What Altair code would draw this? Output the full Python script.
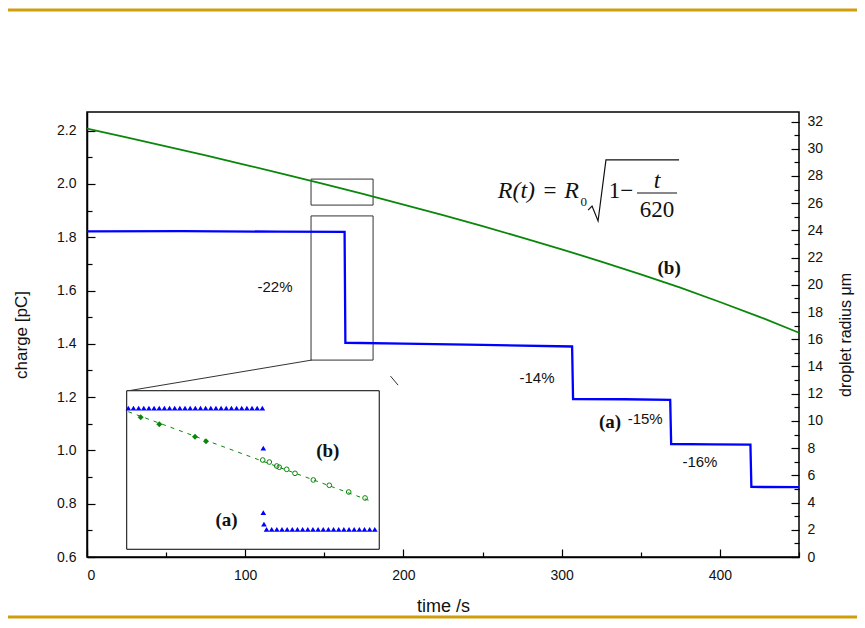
import altair as alt
import pandas as pd

# ---------------- data ----------------
# (a) charge of the droplet [pC] vs time [s]  (stepwise)
blue_t = [0, 60, 120, 162.8, 163.3, 200, 250, 306.6, 307.2, 340, 368.6, 369.2, 395, 419.3, 419.9, 450]
blue_q = [1.822, 1.823, 1.821, 1.820, 1.404, 1.401, 1.396, 1.390, 1.193, 1.192, 1.190, 1.024, 1.023, 1.022, 0.863, 0.862]

# (b) droplet radius [um] vs time [s]
green_t = [0, 25, 50, 75, 100, 125, 150, 175, 200, 225, 250, 275, 300, 325, 350, 375, 400, 425, 450]
green_r = [31.47, 30.83, 30.18, 29.51, 28.82, 28.12, 27.40, 26.66, 25.90, 25.12, 24.31, 23.47,
           22.61, 21.71, 20.77, 19.79, 18.74, 17.65, 16.48]

# step annotations
step_text = ["-22%", "-14%", "-15%", "-16%"]
step_t = [118.8, 284.4, 352.8, 387.4]
step_q = [1.613, 1.272, 1.118, 0.956]

curve_text = ["(a)", "(b)"]
curve_t = [330.6, 367.9]
curve_q = [1.107, 1.684]

# zoom boxes (main coordinates)
box_t0, box_t1 = 141.6, 180.8
rbox_r0, rbox_r1 = 25.86, 27.77
qbox_q0, qbox_q1 = 1.339, 1.880

# inset frame (main coordinates)
inset_t0, inset_t1 = 25.1, 184.7
inset_q0, inset_q1 = 0.629, 1.224

# connector lines (main coordinates)
conn_id = [1, 1, 2, 2]
conn_t = [142.0, 27.2, 191.8, 196.6]
conn_q = [1.339, 1.2248, 1.279, 1.245]

# inset data (zoomed region, its own scales)
ins_top_t = [141.85, 142.65, 143.45, 144.25, 145.05, 145.85, 146.65, 147.45, 148.25, 149.05,
             149.85, 150.65, 151.45, 152.25, 153.05, 153.85, 154.65, 155.45, 156.25, 157.05,
             157.85, 158.65, 159.45, 160.25, 161.05, 161.85, 162.65]
ins_mid_t = [162.8, 162.8, 162.9]
ins_mid_q = [1.684, 1.464, 1.425]
ins_bot_t = [163.3, 164.1, 164.9, 165.7, 166.5, 167.3, 168.1, 168.9, 169.7, 170.5, 171.3,
             172.1, 172.9, 173.7, 174.5, 175.3, 176.1, 176.9, 177.7, 178.5, 179.3, 180.1]
ins_top_level = 1.8206
ins_bot_level = 1.4071

ins_dia_t = [143.77, 146.66, 152.20, 153.91]
ins_dia_r = [27.450, 27.365, 27.216, 27.161]
ins_circ_t = [162.71, 163.73, 164.88, 165.28, 166.43, 167.72, 170.56, 173.04, 176.05, 178.59]
ins_circ_r = [26.935, 26.911, 26.863, 26.848, 26.823, 26.775, 26.695, 26.631, 26.550, 26.478]
ins_fit_t = [141.85, 179.87]
ins_fit_r = [27.517, 26.430]

ins_lab_a = (157.1, 1.439)
ins_lab_b = (172.8, 27.046)

# formula pieces (main coordinates)
f_ital_text = ["R(t)", "R", "t"]
f_ital_t = [271.4, 306.2, 360.3]
f_ital_q = [1.947, 1.947, 1.985]
f_up_text = ["=", "1\u2212", "620"]
f_up_t = [292.6, 337.5, 360.3]
f_up_q = [1.947, 1.947, 1.876]
f_sub_text = ["0"]
f_sub_t = [314.0]
f_sub_q = [1.918]
rad_t = [316.7, 319.2, 323.0, 328.0, 374.2]
rad_q = [1.902, 1.917, 1.861, 2.090, 2.090]
bar_t = [347.6, 372.9]
bar_q = [1.966, 1.966]

# axis ticks
x_major = [0, 100, 200, 300, 400]
x_minor = [50, 150, 250, 350, 450]
q_major = [0.6, 0.8, 1.0, 1.2, 1.4, 1.6, 1.8, 2.0, 2.2]
q_minor = [0.7, 0.9, 1.1, 1.3, 1.5, 1.7, 1.9, 2.1]
r_major = [0, 2, 4, 6, 8, 10, 12, 14, 16, 18, 20, 22, 24, 26, 28, 30, 32]
r_minor = [1, 3, 5, 7, 9, 11, 13, 15, 17, 19, 21, 23, 25, 27, 29, 31]

# ---------------- scales ----------------
W, H = 712, 445
XS = alt.Scale(domain=[0, 450], nice=False, zero=False)
YQ = alt.Scale(domain=[0.6, 2.27], nice=False, zero=False)
YR = alt.Scale(domain=[0, 32.7], nice=False, zero=False)
XI = alt.Scale(domain=[box_t0, box_t1], range=[39.7, 292.3], nice=False, zero=False)
YIQ = alt.Scale(domain=[qbox_q0, qbox_q1], range=[437.3, 278.7], nice=False, zero=False)
YIR = alt.Scale(domain=[rbox_r0, rbox_r1], range=[437.3, 278.7], nice=False, zero=False)

SANS = "Liberation Sans"
SERIF = "Liberation Serif"
GREEN = "#0a870a"
BLUE = "#0000ff"
GOLD = "#cf9e0b"


def X(field, scale=XS, axis=None):
    return alt.X(field, type="quantitative", scale=scale, axis=axis)


def Y(field, scale=YQ, axis=None):
    return alt.Y(field, type="quantitative", scale=scale, axis=axis)


one = pd.DataFrame({"k": [0]})

# gold slide lines
gold_top = alt.Chart(one).mark_rule(color=GOLD, strokeWidth=3).encode(
    x=alt.value(-79), x2=alt.value(778), y=alt.value(-102))
gold_bot = alt.Chart(one).mark_rule(color=GOLD, strokeWidth=3).encode(
    x=alt.value(-79), x2=alt.value(778), y=alt.value(505))

# zoom boxes
rbox = alt.Chart(pd.DataFrame({"t0": [box_t0], "t1": [box_t1], "r0": [rbox_r0], "r1": [rbox_r1]})).mark_rect(
    fillOpacity=0, stroke="#333333", strokeWidth=1).encode(
    x=X("t0"), x2="t1", y=Y("r0", YR), y2="r1")
qbox = alt.Chart(pd.DataFrame({"t0": [box_t0], "t1": [box_t1], "q0": [qbox_q0], "q1": [qbox_q1]})).mark_rect(
    fillOpacity=0, stroke="#333333", strokeWidth=1).encode(
    x=X("t0"), x2="t1", y=Y("q0"), y2="q1")

# main curves
green_df = pd.DataFrame({"t": green_t, "r": green_r})
green = alt.Chart(green_df).mark_line(color=GREEN, strokeWidth=1.8).encode(
    x=X("t"),
    y=Y("r", YR, alt.Axis(orient="right", values=r_major, ticks=False, domain=False,
                         labelPadding=8, title="droplet radius \u03bcm", titleAngle=270,
                         titleBaseline="top", titlePadding=15, titleFontSize=16)))

blue_df = pd.DataFrame({"t": blue_t, "q": blue_q, "i": list(range(len(blue_t)))})
blue = alt.Chart(blue_df).mark_line(color=BLUE, strokeWidth=2.3).encode(
    x=X("t", XS, alt.Axis(orient="bottom", values=x_major, ticks=False, labelPadding=11,
                          title="time /s", titlePadding=15, titleFontSize=18)),
    y=Y("q", YQ, alt.Axis(orient="left", values=q_major, format=".1f", ticks=False, labelPadding=11,
                          title="charge  [pC]", titlePadding=26, titleFontSize=17)),
    order="i:Q")


# inward tick axes
def ticks(values, scale, orient, size):
    df = pd.DataFrame({"v": values})
    ax = alt.Axis(orient=orient, values=values, tickSize=size, offset=-size, labels=False,
                  domain=False, title=None, tickColor="black", tickWidth=1.2, grid=False)
    base = alt.Chart(df).mark_point(opacity=0)
    if orient in ("bottom", "top"):
        return base.encode(x=alt.X("v", type="quantitative", scale=scale, axis=ax), y=alt.value(0))
    return base.encode(y=alt.Y("v", type="quantitative", scale=scale, axis=ax), x=alt.value(0))


tick_layers = [
    ticks(x_major, XS, "bottom", 8), ticks(x_minor, XS, "bottom", 5),
    ticks(q_major, YQ, "left", 8), ticks(q_minor, YQ, "left", 5),
    ticks(r_major, YR, "right", 8), ticks(r_minor, YR, "right", 5),
]

# inset frame & connectors
inset_frame = alt.Chart(pd.DataFrame({"t0": [inset_t0], "t1": [inset_t1], "q0": [inset_q0], "q1": [inset_q1]})).mark_rect(
    fill="white", stroke="black", strokeWidth=1).encode(x=X("t0"), x2="t1", y=Y("q0"), y2="q1")
conn = alt.Chart(pd.DataFrame({"id": conn_id, "t": conn_t, "q": conn_q})).mark_line(
    color="#333333", strokeWidth=1).encode(x=X("t"), y=Y("q"), detail="id:N")

# inset content
tri_df = pd.DataFrame({
    "t": ins_top_t + ins_mid_t + ins_bot_t,
    "q": [ins_top_level] * len(ins_top_t) + ins_mid_q + [ins_bot_level] * len(ins_bot_t)})
tri = alt.Chart(tri_df).mark_point(shape="triangle-up", filled=True, color=BLUE, size=32, opacity=1).encode(
    x=X("t", XI), y=Y("q", YIQ))
fit = alt.Chart(pd.DataFrame({"t": ins_fit_t, "r": ins_fit_r})).mark_line(
    color=GREEN, strokeWidth=1, strokeDash=[4, 5]).encode(x=X("t", XI), y=Y("r", YIR))
dia = alt.Chart(pd.DataFrame({"t": ins_dia_t, "r": ins_dia_r})).mark_point(
    shape="diamond", filled=True, color=GREEN, size=36, opacity=1).encode(x=X("t", XI), y=Y("r", YIR))
circ = alt.Chart(pd.DataFrame({"t": ins_circ_t, "r": ins_circ_r})).mark_point(
    shape="circle", filled=False, color=GREEN, size=22, strokeWidth=1, opacity=1).encode(x=X("t", XI), y=Y("r", YIR))
lab_a = alt.Chart(pd.DataFrame({"t": [ins_lab_a[0]], "q": [ins_lab_a[1]], "s": ["(a)"]})).mark_text(
    font=SERIF, fontWeight="bold", fontSize=19, color="#111111").encode(x=X("t", XI), y=Y("q", YIQ), text="s:N")
lab_b = alt.Chart(pd.DataFrame({"t": [ins_lab_b[0]], "r": [ins_lab_b[1]], "s": ["(b)"]})).mark_text(
    font=SERIF, fontWeight="bold", fontSize=19, color="#111111").encode(x=X("t", XI), y=Y("r", YIR), text="s:N")

# annotations
steps = alt.Chart(pd.DataFrame({"t": step_t, "q": step_q, "s": step_text})).mark_text(
    font=SANS, fontSize=15, color="#111111").encode(x=X("t"), y=Y("q"), text="s:N")
curves = alt.Chart(pd.DataFrame({"t": curve_t, "q": curve_q, "s": curve_text})).mark_text(
    font=SERIF, fontWeight="bold", fontSize=19, color="#111111").encode(x=X("t"), y=Y("q"), text="s:N")

# formula
f_ital = alt.Chart(pd.DataFrame({"t": f_ital_t, "q": f_ital_q, "s": f_ital_text})).mark_text(
    font=SERIF, fontStyle="italic", fontSize=24, baseline="alphabetic", color="#111111").encode(
    x=X("t"), y=Y("q"), text="s:N")
f_up = alt.Chart(pd.DataFrame({"t": f_up_t, "q": f_up_q, "s": f_up_text})).mark_text(
    font=SERIF, fontSize=23, baseline="alphabetic", color="#111111").encode(
    x=X("t"), y=Y("q"), text="s:N")
f_sub = alt.Chart(pd.DataFrame({"t": f_sub_t, "q": f_sub_q, "s": f_sub_text})).mark_text(
    font=SERIF, fontSize=13, baseline="alphabetic", color="#111111").encode(
    x=X("t"), y=Y("q"), text="s:N")
f_rad = alt.Chart(pd.DataFrame({"t": rad_t, "q": rad_q, "i": list(range(len(rad_t)))})).mark_line(
    color="#111111", strokeWidth=1.2).encode(x=X("t"), y=Y("q"), order="i:Q")
f_bar = alt.Chart(pd.DataFrame({"t": bar_t, "q": bar_q})).mark_line(
    color="#111111", strokeWidth=1.1).encode(x=X("t"), y=Y("q"))

layers = [gold_top, gold_bot, rbox, qbox, green, blue] + tick_layers + [
    inset_frame, conn, fit, dia, circ, tri, lab_a, lab_b,
    steps, curves, f_ital, f_up, f_sub, f_rad, f_bar]

chart = alt.layer(*layers).resolve_scale(x="independent", y="independent").properties(
    width=W, height=H,
    autosize=alt.AutoSizeParams(type="none"),
    padding={"left": 79, "top": 104, "right": 58, "bottom": 62},
).configure_view(stroke="black", strokeWidth=1.5).configure_axis(
    labelFont=SANS, labelFontSize=14, labelColor="#111111",
    titleFont=SANS, titleFontWeight="normal", titleColor="#111111",
    domainColor="black", domainWidth=1.5, grid=False,
)

chart.save("out.html", embed_options={"renderer": "svg", "actions": False})
